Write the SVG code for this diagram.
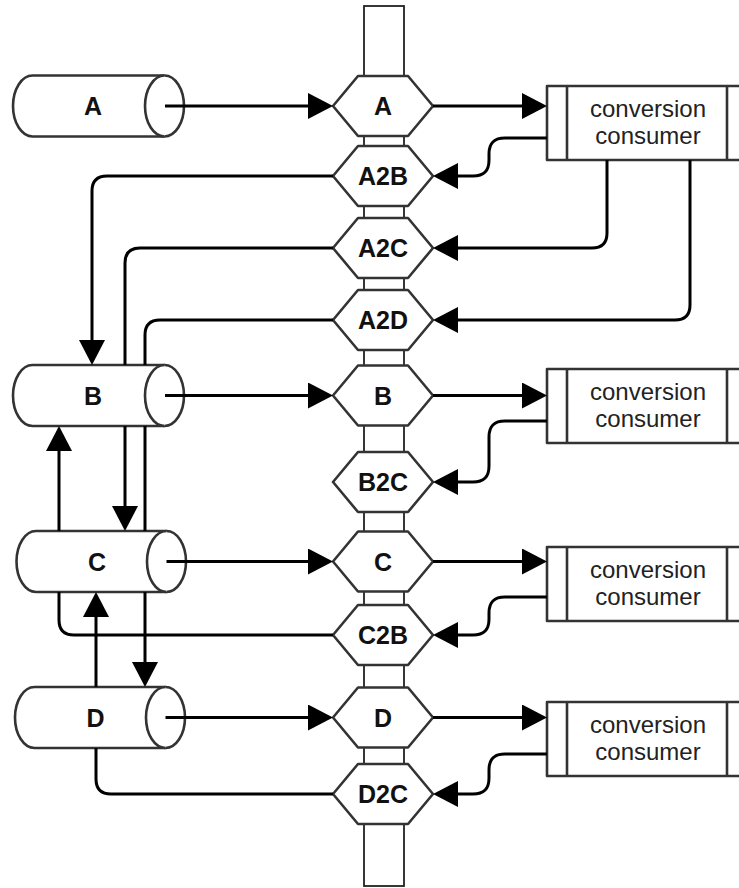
<svg xmlns="http://www.w3.org/2000/svg" width="739" height="888" viewBox="0 0 739 888">
  <style>
    .node { fill: #ffffff; stroke: #333333; stroke-width: 2.6; stroke-linejoin: round; }
    .bar { fill: #ffffff; stroke: #222222; stroke-width: 1.8; }
    .edge { fill: none; stroke: #000000; stroke-width: 3; marker-end: url(#head); }
    .lbl { font-family: "Liberation Sans", Arial, Helvetica, sans-serif; font-weight: bold; font-size: 25px; fill: #111111; text-anchor: middle; }
    .txt { font-family: "Liberation Sans", Arial, Helvetica, sans-serif; font-size: 24px; fill: #222222; text-anchor: middle; }
  </style>
  <defs>
    <marker id="head" viewBox="0 0 25 26" refX="5" refY="13" markerWidth="25" markerHeight="26" markerUnits="userSpaceOnUse" orient="auto">
      <path d="M0,0 L25,13 L0,26 Z" fill="#000000"/>
    </marker>
  </defs>

  <!-- topic backbone -->
  <g id="topic">
    <rect class="bar" x="364" y="6" width="40" height="880"/>
  </g>

  <!-- topic partitions (hexagons) -->
  <g id="hex-A"><polygon class="node" points="333,106 358,76 408,76 433,106 408,136 358,136"/><text class="lbl" x="383" y="115">A</text></g>
  <g id="hex-A2B"><polygon class="node" points="333,176 358,146 408,146 433,176 408,206 358,206"/><text class="lbl" x="383" y="185">A2B</text></g>
  <g id="hex-A2C"><polygon class="node" points="333,248 358,218 408,218 433,248 408,278 358,278"/><text class="lbl" x="383" y="257">A2C</text></g>
  <g id="hex-A2D"><polygon class="node" points="333,320 358,290 408,290 433,320 408,350 358,350"/><text class="lbl" x="383" y="329">A2D</text></g>
  <g id="hex-B"><polygon class="node" points="333,395.5 358,365.5 408,365.5 433,395.5 408,425.5 358,425.5"/><text class="lbl" x="383" y="404.5">B</text></g>
  <g id="hex-B2C"><polygon class="node" points="333,482 358,452 408,452 433,482 408,512 358,512"/><text class="lbl" x="383" y="491">B2C</text></g>
  <g id="hex-C"><polygon class="node" points="333,561.5 358,531.5 408,531.5 433,561.5 408,591.5 358,591.5"/><text class="lbl" x="383" y="570.5">C</text></g>
  <g id="hex-C2B"><polygon class="node" points="333,635 358,605 408,605 433,635 408,665 358,665"/><text class="lbl" x="383" y="644">C2B</text></g>
  <g id="hex-D"><polygon class="node" points="333,717.5 358,687.5 408,687.5 433,717.5 408,747.5 358,747.5"/><text class="lbl" x="383" y="726.5">D</text></g>
  <g id="hex-D2C"><polygon class="node" points="333,794 358,764 408,764 433,794 408,824 358,824"/><text class="lbl" x="383" y="803">D2C</text></g>

  <!-- data stores (horizontal cylinders) -->
  <g id="store-A">
    <path class="node" d="M32.5,75.5 H164.5 A19.5,30.5 0 0 1 164.5,136.5 H32.5 A19.5,30.5 0 0 1 32.5,75.5 Z"/>
    <path class="node" fill="none" d="M164.5,75.5 A19.5,30.5 0 0 0 164.5,136.5"/>
    <text class="lbl" x="93" y="115">A</text>
  </g>
  <g id="store-B">
    <path class="node" d="M32.5,365 H164.5 A19.5,30.5 0 0 1 164.5,426 H32.5 A19.5,30.5 0 0 1 32.5,365 Z"/>
    <path class="node" fill="none" d="M164.5,365 A19.5,30.5 0 0 0 164.5,426"/>
    <text class="lbl" x="93" y="404.5">B</text>
  </g>
  <g id="store-C">
    <path class="node" d="M36,531 H166.5 A19.5,30.5 0 0 1 166.5,592 H36 A19.5,30.5 0 0 1 36,531 Z"/>
    <path class="node" fill="none" d="M166.5,531 A19.5,30.5 0 0 0 166.5,592"/>
    <text class="lbl" x="97" y="570.5">C</text>
  </g>
  <g id="store-D">
    <path class="node" d="M34.5,687 H165.5 A19.5,30.5 0 0 1 165.5,748 H34.5 A19.5,30.5 0 0 1 34.5,687 Z"/>
    <path class="node" fill="none" d="M165.5,687 A19.5,30.5 0 0 0 165.5,748"/>
    <text class="lbl" x="95.5" y="726.5">D</text>
  </g>

  <!-- consumers (process boxes, running past the right edge) -->
  <g id="consumer-1">
    <rect class="node" x="547" y="86" width="200" height="74"/>
    <line class="node" x1="567" y1="86" x2="567" y2="160"/>
    <line class="node" x1="727" y1="86" x2="727" y2="160"/>
    <text class="txt" x="648" y="117">conversion</text>
    <text class="txt" x="648" y="144">consumer</text>
  </g>
  <g id="consumer-2">
    <rect class="node" x="547" y="369" width="200" height="74"/>
    <line class="node" x1="567" y1="369" x2="567" y2="443"/>
    <line class="node" x1="727" y1="369" x2="727" y2="443"/>
    <text class="txt" x="648" y="400">conversion</text>
    <text class="txt" x="648" y="427">consumer</text>
  </g>
  <g id="consumer-3">
    <rect class="node" x="547" y="547" width="200" height="74"/>
    <line class="node" x1="567" y1="547" x2="567" y2="621"/>
    <line class="node" x1="727" y1="547" x2="727" y2="621"/>
    <text class="txt" x="648" y="578">conversion</text>
    <text class="txt" x="648" y="605">consumer</text>
  </g>
  <g id="consumer-4">
    <rect class="node" x="547" y="702" width="200" height="74"/>
    <line class="node" x1="567" y1="702" x2="567" y2="776"/>
    <line class="node" x1="727" y1="702" x2="727" y2="776"/>
    <text class="txt" x="648" y="733">conversion</text>
    <text class="txt" x="648" y="760">consumer</text>
  </g>

  <!-- connectors; gaps where a line runs behind a cylinder -->
  <g id="connectors">
    <path class="edge" d="M165,106 H313"/>
    <path class="edge" d="M433,106 H527"/>
    <path class="edge" d="M547,138 H505 C494,138 489,143 489,154 V160 C489,171 484,176 473,176 H453"/>
    <path class="edge" d="M607,160 V233 Q607,248 592,248 H453"/>
    <path class="edge" d="M690,160 V305 Q690,320 675,320 H453"/>
    <path class="edge" d="M333,176 H107 Q92,176 92,191 V345"/>
    <path class="edge" d="M333,248 H140 Q125,248 125,263 V365 M125,426 V511"/>
    <path class="edge" d="M333,320 H160 Q145,320 145,335 V365 M145,426 V531 M145,592 V667"/>

    <path class="edge" d="M165,395.5 H313"/>
    <path class="edge" d="M433,395.5 H527"/>
    <path class="edge" d="M547,421 H505 C494,421 489,426 489,437 V466 C489,477 484,482 473,482 H453"/>

    <path class="edge" d="M333,635 H74 Q59,635 59,620 V592 M59,531 V446"/>
    <path class="edge" d="M166.5,561.5 H313"/>
    <path class="edge" d="M433,561.5 H527"/>
    <path class="edge" d="M547,597 H505 C494,597 489,602 489,613 V619 C489,630 484,635 473,635 H453"/>

    <path class="edge" d="M165.5,717.5 H313"/>
    <path class="edge" d="M433,717.5 H527"/>
    <path class="edge" d="M547,754 H505 C494,754 489,759 489,770 V778 C489,789 484,794 473,794 H453"/>
    <path class="edge" d="M333,794 H111 Q96,794 96,779 V748 M96,687 V612"/>
  </g>
</svg>
